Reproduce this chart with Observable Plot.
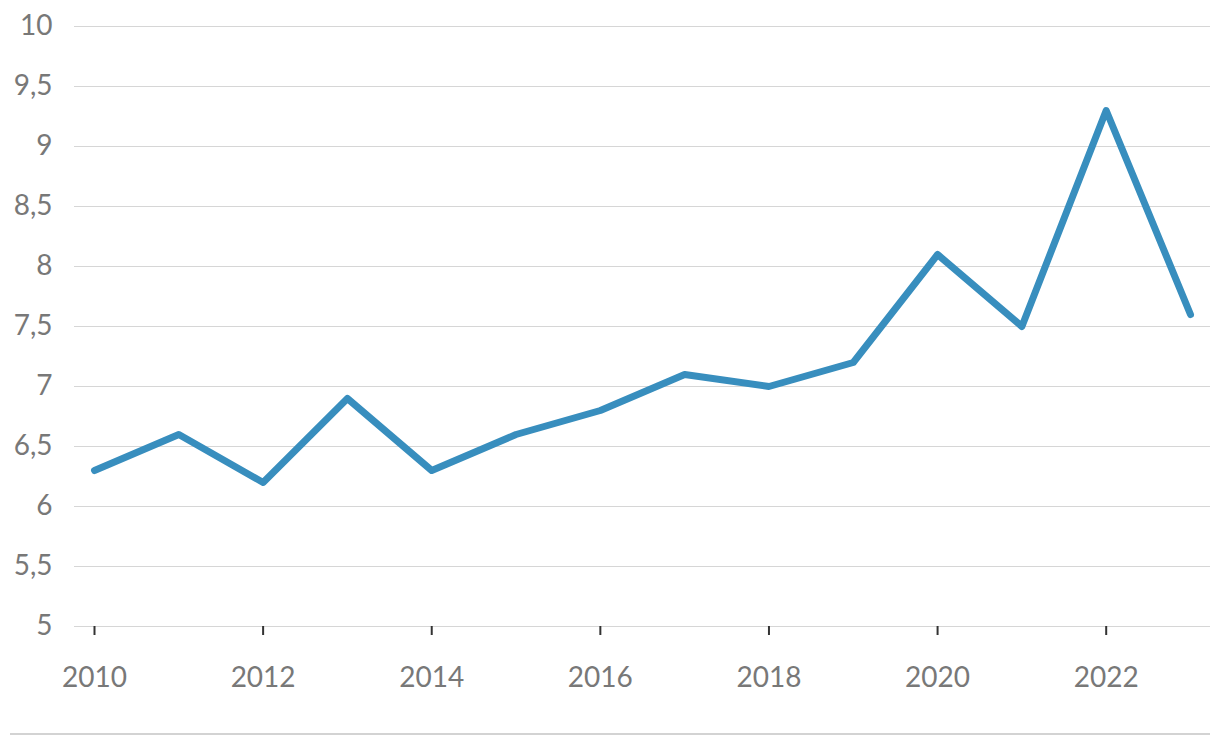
<!DOCTYPE html>
<html>
<head>
<meta charset="utf-8">
<script src="https://cdn.jsdelivr.net/npm/d3@7"></script>
<script src="https://cdn.jsdelivr.net/npm/@observablehq/plot@0.6"></script>
<style>
  body { margin: 0; background: #fff; font-family: Lato, sans-serif; }
  #chart svg { display: block; }
  #rule { margin-left: 10px; width: 1200px; border-top: 2px solid #d3d3d3; }
</style>
</head>
<body>
<div id="chart"></div>
<div id="rule"></div>
<script>
const years = [2010, 2011, 2012, 2013, 2014, 2015, 2016, 2017, 2018, 2019, 2020, 2021, 2022, 2023];
const values = [6.3, 6.6, 6.2, 6.9, 6.3, 6.6, 6.8, 7.1, 7.0, 7.2, 8.1, 7.5, 9.3, 7.6];
const yTicks = [5, 5.5, 6, 6.5, 7, 7.5, 8, 8.5, 9, 9.5, 10];
const xTicks = [2010, 2012, 2014, 2016, 2018, 2020, 2022];

const data = years.map((y, i) => ({year: y, value: values[i]}));

const chart = Plot.plot({
  width: 1220,
  height: 733,
  marginTop: 26,
  marginBottom: 107,
  marginLeft: 74,
  marginRight: 10,
  insetLeft: 20,
  insetRight: 20,
  style: {fontFamily: "Lato, sans-serif", fontSize: "28px", color: "#787878", background: "#fff"},
  x: {domain: [2010, 2023], label: null},
  y: {domain: [5, 10], label: null},
  marks: [
    Plot.gridY(yTicks, {stroke: "#d6d6d6", strokeOpacity: 1, strokeWidth: 1}),
    Plot.axisY(yTicks, {tickSize: 0, tickPadding: 22, tickFormat: d => String(d).replace(".", ","), fill: "#787878", label: null}),
    Plot.axisX(xTicks, {tickSize: 9, tickPadding: 32, tickFormat: d => String(d), stroke: "#333", strokeWidth: 2, fill: "#787878", label: null}),
    Plot.line(data, {x: "year", y: "value", stroke: "#388ebe", strokeWidth: 7, strokeLinecap: "round", strokeLinejoin: "round"})
  ]
});
document.getElementById("chart").appendChild(chart);
</script>
</body>
</html>
